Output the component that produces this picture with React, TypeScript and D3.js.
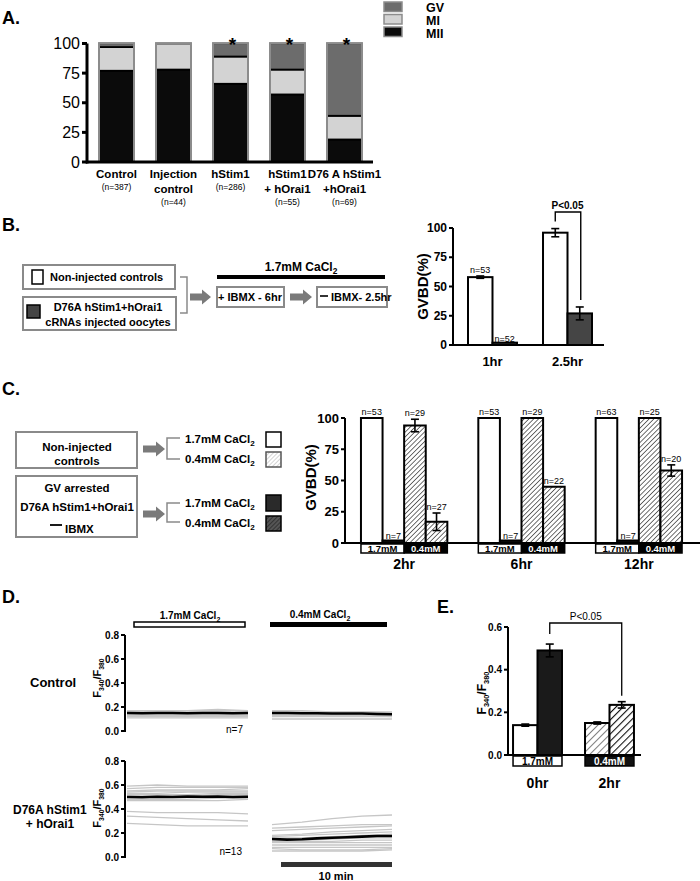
import React from "react";
import * as d3 from "d3";

const FONT = "'Liberation Sans', Arial, Helvetica, sans-serif";
const NARROW = "'Liberation Sans Narrow', 'Liberation Sans', Arial, sans-serif";

// ---------- Panel A: meiotic stage distribution (%)
const groupsA = ["Control", "Injection control", "hStim1", "hStim1 + hOrai1", "D76A hStim1 + hOrai1"];
const labelLinesA = [["Control"], ["Injection", "control"], ["hStim1"], ["hStim1", "+ hOrai1"], ["D76 A hStim1", "+hOrai1"]];
const nA = ["(n=387)", "(n=44)", "(n=286)", "(n=55)", "(n=69)"];
const mIIA = [77, 78, 66, 57, 19];
const mIA = [20, 22, 23, 21, 20];
const gvA = [3, 0, 11, 22, 61];
const starsA = [false, false, true, true, true];
const ticksA = [0, 25, 50, 75, 100];
const stagesA = ["MII", "MI", "GV"];
const legendA = ["GV", "MI", "MII"];

// ---------- Panel B: GVBD after IBMX washout
const timesB = ["1hr", "2.5hr"];
const seriesB = ["ctrl", "d76a"];
const ctrlB = [58, 96];
const ctrlErrB = [1, 3.5];
const d76aB = [2, 27];
const d76aErrB = [0, 5.5];
const nCtrlB = ["n=53", ""];
const nD76aB = ["n=52", ""];
const ticksB = [0, 25, 50, 75, 100];

// ---------- Panel C: GVBD vs external Ca
const timesC = ["2hr", "6hr", "12hr"];
const seriesC = ["ctl17", "d7617", "ctl04", "d7604"];
const ctl17C = [100, 100, 100];
const d7617C = [2, 2, 2];
const ctl04C = [94, 100, 100];
const ctl04ErrC = [5, 0, 0];
const d7604C = [17, 45, 58];
const d7604ErrC = [7, 0, 4.5];
const nCtl17C = ["n=53", "n=53", "n=63"];
const nD7617C = ["n=7", "n=7", "n=7"];
const nCtl04C = ["n=29", "n=29", "n=25"];
const nD7604C = ["n=27", "n=22", "n=20"];
const ticksC = [0, 25, 50, 75, 100];

// ---------- Panel D: F340/F380 traces (min)
const traceTimes = [0, 2.75, 5.5, 8.25, 11];
const meanTimes = [0, 1.375, 2.75, 4.125, 5.5, 6.875, 8.25, 9.625, 11];
const ctrl17Traces = [
  [0.17, 0.17, 0.17, 0.17, 0.17],
  [0.16, 0.16, 0.16, 0.16, 0.16],
  [0.16, 0.17, 0.17, 0.18, 0.17],
  [0.14, 0.14, 0.14, 0.14, 0.14],
  [0.13, 0.13, 0.13, 0.13, 0.13],
  [0.12, 0.12, 0.12, 0.12, 0.12],
  [0.11, 0.11, 0.11, 0.11, 0.11],
];
const ctrl17Mean = [0.15, 0.148, 0.15, 0.15, 0.148, 0.15, 0.15, 0.148, 0.15];
const ctrl04Traces = [
  [0.17, 0.17, 0.16, 0.16, 0.16],
  [0.16, 0.16, 0.16, 0.16, 0.15],
  [0.15, 0.15, 0.14, 0.14, 0.14],
  [0.14, 0.14, 0.14, 0.13, 0.13],
  [0.13, 0.13, 0.13, 0.13, 0.12],
  [0.12, 0.12, 0.12, 0.12, 0.12],
  [0.1, 0.1, 0.1, 0.1, 0.1],
];
const ctrl04Mean = [0.15, 0.15, 0.148, 0.148, 0.146, 0.146, 0.146, 0.142, 0.14];
const d76a17Traces = [
  [0.59, 0.6, 0.59, 0.59, 0.59],
  [0.57, 0.58, 0.58, 0.58, 0.58],
  [0.55, 0.56, 0.56, 0.56, 0.57],
  [0.54, 0.55, 0.55, 0.55, 0.55],
  [0.53, 0.53, 0.54, 0.54, 0.54],
  [0.52, 0.52, 0.52, 0.53, 0.53],
  [0.51, 0.51, 0.51, 0.52, 0.52],
  [0.5, 0.5, 0.5, 0.5, 0.51],
  [0.48, 0.48, 0.48, 0.49, 0.49],
  [0.47, 0.47, 0.47, 0.47, 0.48],
  [0.38, 0.37, 0.37, 0.37, 0.36],
  [0.34, 0.33, 0.32, 0.31, 0.3],
  [0.28, 0.27, 0.26, 0.26, 0.26],
];
const d76a17Mean = [0.5, 0.498, 0.502, 0.5, 0.503, 0.502, 0.504, 0.5, 0.502];
const d76a04Traces = [
  [0.27, 0.29, 0.32, 0.34, 0.35],
  [0.24, 0.25, 0.26, 0.27, 0.27],
  [0.22, 0.23, 0.24, 0.25, 0.26],
  [0.18, 0.19, 0.21, 0.22, 0.23],
  [0.17, 0.18, 0.19, 0.2, 0.21],
  [0.16, 0.16, 0.17, 0.18, 0.19],
  [0.14, 0.14, 0.15, 0.16, 0.16],
  [0.13, 0.13, 0.13, 0.14, 0.14],
  [0.12, 0.12, 0.12, 0.12, 0.12],
  [0.1, 0.1, 0.1, 0.1, 0.1],
  [0.08, 0.08, 0.08, 0.08, 0.08],
  [0.07, 0.06, 0.06, 0.06, 0.07],
  [0.05, 0.05, 0.05, 0.05, 0.06],
];
const d76a04Mean = [0.15, 0.145, 0.148, 0.155, 0.16, 0.165, 0.17, 0.175, 0.175];
const ticksD = [0, 0.2, 0.4, 0.6, 0.8];

// ---------- Panel E: resting F340/F380
const timesE = ["0hr", "2hr"];
const seriesE = ["ctrl", "d76a"];
const ctrlE = [0.14, 0.15];
const ctrlErrE = [0.005, 0.005];
const d76aE = [0.49, 0.235];
const d76aErrE = [0.03, 0.015];
const ticksE = [0, 0.2, 0.4, 0.6];

type Lin = d3.ScaleLinear<number, number>;

function YAxis({ y, x, ticks, fmt, size, len = 4, w = 2, font = FONT, weight = "bold" }: any) {
  const [r0, r1] = (y as Lin).range();
  return (
    <g>
      <line x1={x} x2={x} y1={r0 + w / 2} y2={r1} stroke="#000" strokeWidth={w} />
      {ticks.map((t: number) => (
        <g key={t}>
          <line x1={x - len} x2={x} y1={y(t)} y2={y(t)} stroke="#000" strokeWidth={w} />
          <text x={x - len - 2} y={y(t)} dy="0.35em" textAnchor="end" fontSize={size} fontFamily={font} fontWeight={weight}>
            {fmt(t)}
          </text>
        </g>
      ))}
    </g>
  );
}

function ErrBar({ x, y, v, e, cap = 4 }: any) {
  if (!e) return null;
  return (
    <g stroke="#000" strokeWidth={1.6}>
      <line x1={x} x2={x} y1={y(v - e)} y2={y(v + e)} />
      <line x1={x - cap} x2={x + cap} y1={y(v + e)} y2={y(v + e)} />
      <line x1={x - cap} x2={x + cap} y1={y(v - e)} y2={y(v - e)} />
    </g>
  );
}

function Arrow({ x0, x1, cy }: any) {
  const pts = [
    [x0, cy - 3.5], [x1 - 9, cy - 3.5], [x1 - 9, cy - 7.5], [x1, cy],
    [x1 - 9, cy + 7.5], [x1 - 9, cy + 3.5], [x0, cy + 3.5],
  ];
  return <polygon points={pts.map((p) => p.join(",")).join(" ")} fill="#7a7a7a" />;
}

function Ratio({ x, y, size = 11 }: any) {
  return (
    <text transform={`translate(${x},${y}) rotate(-90)`} textAnchor="middle" fontSize={size} fontWeight="bold" fontFamily={FONT}>
      F<tspan fontSize={size * 0.62} dy={3}>340</tspan>
      <tspan dy={-3}>/F</tspan>
      <tspan fontSize={size * 0.62} dy={3}>380</tspan>
    </text>
  );
}

function CaCl({ x, y, label, size = 11, anchor = "start", family = NARROW }: any) {
  return (
    <text x={x} y={y} fontSize={size} fontWeight="bold" fontFamily={family} textAnchor={anchor}>
      {label} CaCl<tspan fontSize={size * 0.7} dy={3}>2</tspan>
    </text>
  );
}

export default function App() {
  // ---- A
  const xA = d3.scaleBand().domain(groupsA).range([88, 373]).paddingInner(0.386).paddingOuter(0.193);
  const yA = d3.scaleLinear().domain([0, 100]).range([162, 43.5]);
  const rowsA = groupsA.map((g, i) => ({ group: g, MII: mIIA[i], MI: mIA[i], GV: gvA[i] }));
  const stackA = d3.stack<any>().keys(stagesA)(rowsA);
  const fillA: Record<string, string> = { MII: "#0b0b0b", MI: "#d3d3d3", GV: "#6c6c6c" };

  // ---- B
  const xB = d3.scaleBand().domain(timesB).range([453, 607]).paddingInner(0.347).paddingOuter(0.2);
  const xBi = d3.scaleBand().domain(seriesB).range([0, xB.bandwidth()]);
  const yB = d3.scaleLinear().domain([0, 100]).range([345, 228]);
  const barsB = [
    { s: "ctrl", vals: ctrlB, errs: ctrlErrB, ns: nCtrlB, fill: "#fff" },
    { s: "d76a", vals: d76aB, errs: d76aErrB, ns: nD76aB, fill: "#454545" },
  ];

  // ---- C
  const xC = d3.scaleBand().domain(timesC).range([345, 698]).paddingInner(0.264).paddingOuter(0.136);
  const xCi = d3.scaleBand().domain(seriesC).range([0, xC.bandwidth()]);
  const yC = d3.scaleLinear().domain([0, 100]).range([543, 418]);
  const barsC = [
    { s: "ctl17", vals: ctl17C, errs: [0, 0, 0], ns: nCtl17C, fill: "#fff" },
    { s: "d7617", vals: d7617C, errs: [0, 0, 0], ns: nD7617C, fill: "#111" },
    { s: "ctl04", vals: ctl04C, errs: ctl04ErrC, ns: nCtl04C, fill: "url(#hatchC)" },
    { s: "d7604", vals: d7604C, errs: d7604ErrC, ns: nD7604C, fill: "url(#hatchC)" },
  ];

  // ---- D
  const yDtop = d3.scaleLinear().domain([0, 0.8]).range([731, 635]);
  const yDbot = d3.scaleLinear().domain([0, 0.8]).range([857, 761]);
  const xDl = d3.scaleLinear().domain([0, 11]).range([127, 248]);
  const xDr = d3.scaleLinear().domain([0, 11]).range([272, 392]);
  const lineOf = (x: Lin, y: Lin, ts: number[]) =>
    d3.line<number>().x((_, i) => x(ts[i])).y((v) => y(v));
  const tracePanels = [
    { x: xDl, y: yDtop, traces: ctrl17Traces, mean: ctrl17Mean },
    { x: xDr, y: yDtop, traces: ctrl04Traces, mean: ctrl04Mean },
    { x: xDl, y: yDbot, traces: d76a17Traces, mean: d76a17Mean },
    { x: xDr, y: yDbot, traces: d76a04Traces, mean: d76a04Mean },
  ];

  // ---- E
  const xE = d3.scaleBand().domain(timesE).range([508, 639]).paddingInner(0.32).paddingOuter(0.07);
  const xEi = d3.scaleBand().domain(seriesE).range([0, xE.bandwidth()]);
  const yE = d3.scaleLinear().domain([0, 0.6]).range([755, 627]);
  const fillE = [
    ["#fff", "#1a1a1a"],
    ["url(#hatchLightE)", "url(#hatchDarkE)"],
  ];

  const fmt1 = d3.format(".1f");

  return (
    <div style={{ position: "absolute", left: 0, top: 0 }}>
      <svg width={700} height={881} viewBox="0 0 700 881" style={{ display: "block", background: "#fff" }}>
        <defs>
          <pattern id="hatchC" patternUnits="userSpaceOnUse" width={3.4} height={3.4} patternTransform="rotate(45)">
            <rect width={3.4} height={3.4} fill="#fff" />
            <line x1={0} y1={0} x2={0} y2={3.4} stroke="#222" strokeWidth={1.3} />
          </pattern>
          <pattern id="hatchLightE" patternUnits="userSpaceOnUse" width={5} height={5} patternTransform="rotate(45)">
            <rect width={5} height={5} fill="#fff" />
            <line x1={0} y1={0} x2={0} y2={5} stroke="#555" strokeWidth={1.5} />
          </pattern>
          <pattern id="hatchDarkE" patternUnits="userSpaceOnUse" width={5} height={5} patternTransform="rotate(45)">
            <rect width={5} height={5} fill="#fff" />
            <line x1={0} y1={0} x2={0} y2={5} stroke="#111" strokeWidth={2.2} />
          </pattern>
          <pattern id="hatchLegLight" patternUnits="userSpaceOnUse" width={3} height={3} patternTransform="rotate(45)">
            <rect width={3} height={3} fill="#fff" />
            <line x1={0} y1={0} x2={0} y2={3} stroke="#aaa" strokeWidth={1} />
          </pattern>
          <pattern id="hatchLegDark" patternUnits="userSpaceOnUse" width={3} height={3} patternTransform="rotate(45)">
            <rect width={3} height={3} fill="#555" />
            <line x1={0} y1={0} x2={0} y2={3} stroke="#111" strokeWidth={1} />
          </pattern>
        </defs>

        {/* panel letters */}
        {[["A.", 2, 24], ["B.", 2, 231], ["C.", 2, 395], ["D.", 2, 603], ["E.", 437, 613]].map(([t, x, y]) => (
          <text key={t as string} x={x as number} y={y as number} fontSize={18} fontWeight="bold" fontFamily={FONT}>
            {t}
          </text>
        ))}

        {/* ================= A ================= */}
        <g>
          {stackA.map((layer) => (
            <g key={layer.key} fill={fillA[layer.key]}>
              {layer.map((d, i) =>
                d[1] - d[0] > 0 ? (
                  <rect key={i} x={xA(groupsA[i])} y={yA(d[1])} width={xA.bandwidth()} height={yA(d[0]) - yA(d[1])}
                    stroke="#000" strokeWidth={1.8} />
                ) : null
              )}
            </g>
          ))}
          {groupsA.map((g) => (
            <rect key={g} x={xA(g)} y={yA(100)} width={xA.bandwidth()} height={yA(0) - yA(100)} fill="none" stroke="#8c8c8c" strokeWidth={2} />
          ))}
          {groupsA.map((g, i) =>
            starsA[i] ? (
              <text key={g} x={(xA(g) as number) + xA.bandwidth() / 2 + 2} y={51} textAnchor="middle" fontSize={19} fontWeight="bold" fontFamily={FONT}>
                *
              </text>
            ) : null
          )}
          <line x1={86} x2={373} y1={yA(0)} y2={yA(0)} stroke="#000" strokeWidth={3} />
          <YAxis y={yA} x={87} ticks={ticksA} fmt={(t: number) => `${t}`} size={16} len={5} w={3} font={NARROW} weight="normal" />
          {groupsA.map((g, i) => {
            const cx = (xA(g) as number) + xA.bandwidth() / 2;
            const lines = labelLinesA[i];
            return (
              <g key={g} textAnchor="middle" fontFamily={FONT}>
                {lines.map((l, j) => (
                  <text key={j} x={cx} y={178 + j * 15} fontSize={11.5} fontWeight="bold">{l}</text>
                ))}
                <text x={cx} y={lines.length === 1 ? 190 : 205} fontSize={8.5}>{nA[i]}</text>
              </g>
            );
          })}
          {legendA.map((k, i) => (
            <g key={k}>
              <rect x={384} y={2 + i * 12.5} width={18} height={9.5} fill={fillA[k]} stroke="#8c8c8c" strokeWidth={1.5} />
              <text x={426} y={12 + i * 13} fontSize={12.5} fontWeight="bold" fontFamily={FONT}>{k}</text>
            </g>
          ))}
        </g>

        {/* ================= B diagram ================= */}
        <g fontFamily={NARROW} fontWeight="bold" fontSize={11}>
          <rect x={23} y={265} width={152} height={24} fill="#fff" stroke="#8a8a8a" strokeWidth={2} />
          <rect x={32} y={270} width={11} height={14} fill="#fff" stroke="#000" strokeWidth={1.5} />
          <text x={50} y={281}>Non-injected controls</text>
          <rect x={23} y={297} width={153} height={33} fill="#fff" stroke="#8a8a8a" strokeWidth={2} />
          <rect x={27} y={305} width={13} height={13} fill="#444" stroke="#000" strokeWidth={1.5} />
          <text x={108} y={311} textAnchor="middle">D76A hStim1+hOrai1</text>
          <text x={108} y={326} textAnchor="middle">cRNAs injected oocytes</text>
          <path d="M180,277 H187 V313 H180" fill="none" stroke="#8a8a8a" strokeWidth={1.5} />
          <Arrow x0={190} x1={211} cy={297} />
          <rect x={217} y={287} width={67} height={20} fill="#fff" stroke="#8a8a8a" strokeWidth={2} />
          <text x={250} y={301} textAnchor="middle">+ IBMX - 6hr</text>
          <Arrow x0={290} x1={312} cy={297} />
          <rect x={317} y={287} width={70} height={20} fill="#fff" stroke="#8a8a8a" strokeWidth={2} />
          <line x1={320} x2={328} y1={296} y2={296} stroke="#000" strokeWidth={1.6} />
          <text x={331} y={301}>IBMX- 2.5hr</text>
          <rect x={217} y={275} width={168} height={4} fill="#000" />
          <CaCl x={301} y={271} label="1.7mM" size={12} anchor="middle" family={FONT} />
        </g>

        {/* ================= B chart ================= */}
        <g>
          {barsB.map((b) =>
            timesB.map((t, i) => {
              const x = (xB(t) as number) + (xBi(b.s) as number);
              const cx = x + xBi.bandwidth() / 2;
              return (
                <g key={b.s + t}>
                  <rect x={x} y={yB(b.vals[i])} width={xBi.bandwidth()} height={yB(0) - yB(b.vals[i])} fill={b.fill} stroke="#000" strokeWidth={2} />
                  <ErrBar x={cx} y={yB} v={b.vals[i]} e={b.errs[i]} />
                  {b.ns[i] && (
                    <text x={cx} y={yB(b.vals[i] + b.errs[i]) - (b.vals[i] < 5 ? 1 : 3)} textAnchor="middle" fontSize={9} fontFamily={FONT}>
                      {b.ns[i]}
                    </text>
                  )}
                </g>
              );
            })
          )}
          <line x1={452} x2={604} y1={yB(0)} y2={yB(0)} stroke="#000" strokeWidth={2} />
          <YAxis y={yB} x={453} ticks={ticksB} fmt={(t: number) => `${t}`} size={12} />
          <text transform={`translate(428,${yB(50)}) rotate(-90)`} textAnchor="middle" fontSize={15} fontWeight="bold" fontFamily={FONT}>
            GVBD(%)
          </text>
          {timesB.map((t) => (
            <text key={t} x={(xB(t) as number) + xB.bandwidth() / 2} y={366} textAnchor="middle" fontSize={13} fontWeight="bold" fontFamily={FONT}>
              {t}
            </text>
          ))}
          {(() => {
            const xl = (xB("2.5hr") as number) + (xBi("ctrl") as number) + xBi.bandwidth() / 2;
            const xr = (xB("2.5hr") as number) + (xBi("d76a") as number) + xBi.bandwidth() / 2;
            return (
              <g>
                <path d={`M${xl},${yB(ctrlB[1] + ctrlErrB[1]) - 7} V212 H${xr + 1} V${yB(d76aB[1] + d76aErrB[1]) - 7}`} fill="none" stroke="#000" strokeWidth={1.4} />
                <text x={(xl + xr) / 2} y={209} textAnchor="middle" fontSize={10} fontFamily={FONT} fontWeight="bold">P&lt;0.05</text>
              </g>
            );
          })()}
        </g>

        {/* ================= C diagram ================= */}
        <g fontFamily={NARROW} fontWeight="bold" fontSize={11.5}>
          <rect x={16} y={432} width={121} height={36} fill="#fff" stroke="#8a8a8a" strokeWidth={2} />
          <text x={77} y={451} textAnchor="middle">Non-injected</text>
          <text x={77} y={465} textAnchor="middle">controls</text>
          <Arrow x0={143} x1={165} cy={449} />
          <path d="M180,438 H167 V459 H180" fill="none" stroke="#8a8a8a" strokeWidth={1.5} />
          <CaCl x={185} y={443} label="1.7mM" size={11.5} />
          <CaCl x={185} y={463} label="0.4mM" size={11.5} />
          <rect x={266} y={432} width={15} height={15} fill="#fff" stroke="#000" strokeWidth={1.5} />
          <rect x={266} y={452} width={15} height={15} fill="url(#hatchLegLight)" stroke="#555" strokeWidth={1.5} />

          <rect x={16} y={476} width={121} height={61} fill="#fff" stroke="#8a8a8a" strokeWidth={2} />
          <text x={77} y={492} textAnchor="middle">GV arrested</text>
          <text x={77} y={511} textAnchor="middle">D76A hStim1+hOrai1</text>
          <line x1={50} x2={62} y1={525} y2={525} stroke="#000" strokeWidth={1.8} />
          <text x={65} y={533}>IBMX</text>
          <Arrow x0={143} x1={165} cy={514} />
          <path d="M180,503 H167 V522 H180" fill="none" stroke="#8a8a8a" strokeWidth={1.5} />
          <CaCl x={185} y={507} label="1.7mM" size={11.5} />
          <CaCl x={185} y={527} label="0.4mM" size={11.5} />
          <rect x={266} y={495} width={15} height={16} fill="#2a2a2a" stroke="#000" strokeWidth={1.5} />
          <rect x={266} y={516} width={15} height={15} fill="url(#hatchLegDark)" stroke="#000" strokeWidth={1.5} />
        </g>

        {/* ================= C chart ================= */}
        <g>
          {barsC.map((b) =>
            timesC.map((t, i) => {
              const x = (xC(t) as number) + (xCi(b.s) as number);
              const cx = x + xCi.bandwidth() / 2;
              return (
                <g key={b.s + t}>
                  <rect x={x} y={yC(b.vals[i])} width={xCi.bandwidth()} height={yC(0) - yC(b.vals[i])} fill={b.fill} stroke="#000" strokeWidth={2} />
                  <ErrBar x={cx} y={yC} v={b.vals[i]} e={b.errs[i]} />
                  <text x={cx} y={yC(b.vals[i] + b.errs[i]) - (b.vals[i] < 5 ? 2 : 3)} textAnchor="middle" fontSize={9} fontFamily={FONT}>
                    {b.ns[i]}
                  </text>
                </g>
              );
            })
          )}
          <line x1={344} x2={700} y1={yC(0)} y2={yC(0)} stroke="#000" strokeWidth={2} />
          <YAxis y={yC} x={345} ticks={ticksC} fmt={(t: number) => `${t}`} size={13} />
          <text transform={`translate(316,${yC(50) - 3}) rotate(-90)`} textAnchor="middle" fontSize={15} fontWeight="bold" fontFamily={FONT}>
            GVBD(%)
          </text>
          {timesC.map((t) => {
            const x0 = xC(t) as number;
            const xm = x0 + (xCi("ctl04") as number);
            const x1 = x0 + xC.bandwidth();
            return (
              <g key={t} fontFamily={FONT} fontWeight="bold">
                <rect x={x0} y={544} width={xm - x0} height={9} fill="#fff" stroke="#000" strokeWidth={1.5} />
                <rect x={xm} y={544} width={x1 - xm} height={9} fill="#000" stroke="#000" strokeWidth={1.5} />
                <text x={(x0 + xm) / 2} y={552} textAnchor="middle" fontSize={9.5}>1.7mM</text>
                <text x={(xm + x1) / 2} y={552} textAnchor="middle" fontSize={9.5} fill="#fff">0.4mM</text>
                <text x={(x0 + x1) / 2} y={569} textAnchor="middle" fontSize={14}>{t}</text>
              </g>
            );
          })}
        </g>

        {/* ================= D ================= */}
        <g>
          <rect x={134} y={622} width={111} height={5} fill="#fff" stroke="#000" strokeWidth={1.5} />
          <rect x={270} y={622} width={117} height={5} fill="#000" />
          <CaCl x={190} y={619} label="1.7mM" size={10} anchor="middle" family={FONT} />
          <CaCl x={320} y={618} label="0.4mM" size={10} anchor="middle" family={FONT} />
          {tracePanels.map((p, k) => {
            const gl = lineOf(p.x, p.y, traceTimes);
            const ml = lineOf(p.x, p.y, meanTimes);
            return (
              <g key={k} fill="none">
                {p.traces.map((tr, j) => (
                  <path key={j} d={gl(tr) as string} stroke="#c6c6c6" strokeWidth={1.3} />
                ))}
                <path d={ml(p.mean) as string} stroke="#000" strokeWidth={2.6} />
              </g>
            );
          })}
          <YAxis y={yDtop} x={125} ticks={ticksD} fmt={fmt1} size={10} len={4} w={2} />
          <YAxis y={yDbot} x={125} ticks={ticksD} fmt={fmt1} size={10} len={4} w={2} />
          <Ratio x={101} y={678} size={11} />
          <Ratio x={101} y={808} size={11} />
          <text x={30} y={687} fontSize={13} fontWeight="bold" fontFamily={FONT}>Control</text>
          <text x={13} y={814} fontSize={12} fontWeight="bold" fontFamily={FONT}>D76A hStim1</text>
          <text x={50} y={828} textAnchor="middle" fontSize={12} fontWeight="bold" fontFamily={FONT}>+ hOrai1</text>
          <text x={243} y={733} textAnchor="end" fontSize={10} fontFamily={FONT}>n=7</text>
          <text x={242} y={855} textAnchor="end" fontSize={10} fontFamily={FONT}>n=13</text>
          <rect x={281} y={862} width={111} height={5} fill="#333" />
          <text x={336} y={880} textAnchor="middle" fontSize={11} fontWeight="bold" fontFamily={FONT}>10 min</text>
        </g>

        {/* ================= E ================= */}
        <g>
          {timesE.map((t, i) =>
            seriesE.map((s, j) => {
              const vals = s === "ctrl" ? ctrlE : d76aE;
              const errs = s === "ctrl" ? ctrlErrE : d76aErrE;
              const x = (xE(t) as number) + (xEi(s) as number);
              return (
                <g key={t + s}>
                  <rect x={x} y={yE(vals[i])} width={xEi.bandwidth()} height={yE(0) - yE(vals[i])} fill={fillE[i][j]} stroke="#000" strokeWidth={2} />
                  <ErrBar x={x + xEi.bandwidth() / 2} y={yE} v={vals[i]} e={errs[i]} />
                </g>
              );
            })
          )}
          <line x1={507} x2={641} y1={yE(0)} y2={yE(0)} stroke="#000" strokeWidth={2} />
          <YAxis y={yE} x={508} ticks={ticksE} fmt={fmt1} size={10} len={4} w={2} />
          <Ratio x={486} y={693} size={12} />
          {timesE.map((t, i) => {
            const x0 = xE(t) as number;
            return (
              <g key={t} fontFamily={FONT} fontWeight="bold">
                <rect x={x0} y={756} width={xE.bandwidth()} height={10} fill={i === 0 ? "#fff" : "#111"} stroke="#000" strokeWidth={1.5} />
                <text x={x0 + xE.bandwidth() / 2} y={765} textAnchor="middle" fontSize={10} fill={i === 0 ? "#000" : "#fff"}>
                  {i === 0 ? "1.7mM" : "0.4mM"}
                </text>
                <text x={x0 + xE.bandwidth() / 2} y={788} textAnchor="middle" fontSize={14}>{t}</text>
              </g>
            );
          })}
          {(() => {
            const xl = (xE("0hr") as number) + (xEi("d76a") as number) + xEi.bandwidth() / 2;
            const xr = (xE("2hr") as number) + (xEi("d76a") as number) + xEi.bandwidth() / 2;
            return (
              <g>
                <path d={`M${xl},${yE(d76aE[0] + d76aErrE[0]) - 10} V623 H${xr} V${yE(d76aE[1] + d76aErrE[1]) - 6}`} fill="none" stroke="#000" strokeWidth={1.3} />
                <text x={(xl + xr) / 2} y={620} textAnchor="middle" fontSize={10} fontFamily={FONT}>P&lt;0.05</text>
              </g>
            );
          })()}
        </g>
      </svg>
    </div>
  );
}
